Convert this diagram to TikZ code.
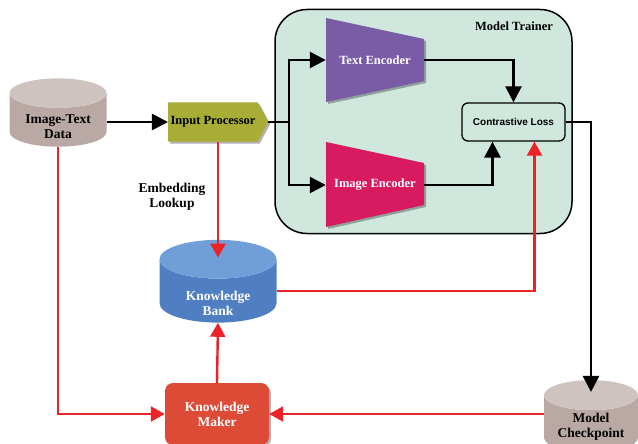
\documentclass[tikz,border=0pt]{standalone}
\usepackage{fontspec}
\setmainfont{Liberation Serif}
\newfontfamily\losssans{Liberation Sans}
\usetikzlibrary{calc,arrows.meta,shapes.geometric,shapes.symbols,shadows}

\definecolor{dbtan}{RGB}{185,168,163}
\definecolor{dbtantop}{RGB}{207,195,192}
\definecolor{procolive}{RGB}{168,173,53}
\definecolor{trainergreen}{RGB}{207,231,220}
\definecolor{textpurple}{RGB}{122,91,166}
\definecolor{imagemagenta}{RGB}{216,27,96}
\definecolor{bankblue}{RGB}{80,126,194}
\definecolor{bankbluetop}{RGB}{112,159,216}
\definecolor{makerred}{RGB}{221,74,54}
\definecolor{linkred}{RGB}{235,35,40}

\tikzset{
  softshadow/.style={drop shadow={shadow xshift=2pt,shadow yshift=-2pt,opacity=0.3,fill=black}},
  dbtext/.style={align=center, font=\fontsize{13.5}{15}\selectfont\bfseries},
  dbstore/.style={cylinder, shape border rotate=90, cylinder uses custom fill, inner sep=0pt, dbtext},
  blackarrow/.style={line width=2.6pt, -{Triangle[length=16pt,width=16pt]}},
  redarrow/.style={line width=2.4pt, draw=linkred, -{Triangle[length=14pt,width=15pt]}},
  encname/.style={minimum width=98pt, inner sep=0pt, text=white, font=\fontsize{12.5}{14}\selectfont\bfseries}
}

\begin{document}
\begin{tikzpicture}[x=1pt,y=-1pt]
		%%%%% START %%%%%
		\useasboundingbox (0,0) rectangle (638,444);
		
		\node[draw, line width=1.5pt, rounded corners=32pt, fill=trainergreen, minimum width=297pt, minimum height=224pt] (trainer) at (423.5,121.5) {};
		\node[font=\fontsize{12.5}{14}\selectfont\bfseries] (trainerlabel) at (514,26) {Model Trainer};
		
		\node[dbstore, cylinder body fill=dbtan, cylinder end fill=dbtantop, minimum width=97pt, minimum height=66pt, aspect=0.45,
		  label={[dbtext, yshift=-7pt]center:Image-Text\\Data}] (data) at (58,120) {\phantom{Image-Text}\\\phantom{Data}};
		\node[signal, signal to=east, signal pointer angle=124, fill=procolive, softshadow, minimum width=100pt, minimum height=39pt, inner sep=0pt, font=\fontsize{12.5}{14}\selectfont\bfseries] (proc) at (213,122) {Input Processor};
		
		\fill[textpurple, softshadow] (326,18) -- (424,39) -- (424,81) -- (326,102) -- cycle;
		\node[encname] (textenc) at (375,60) {Text Encoder};
		\fill[imagemagenta, softshadow] (326,142) -- (424,163) -- (424,205) -- (326,227) -- cycle;
		\node[encname] (imageenc) at (375,185) {Image Encoder};
		
		\node[draw, line width=1.3pt, rounded corners=6pt, fill=trainergreen, minimum width=103pt, minimum height=38pt, font={\losssans\bfseries\fontsize{10}{12}\selectfont}] (loss) at (513.5,122) {Contrastive Loss};
		
		\node[dbtext] (lookup) at (172,197) {Embedding\\Lookup};
		
		\node[dbstore, cylinder body fill=bankblue, cylinder end fill=bankbluetop, minimum width=117pt, minimum height=78pt, aspect=0.6,
		  label={[dbtext, text=white, yshift=-12pt]center:Knowledge\\Bank}] (bank) at (218,291) {\phantom{Knowledge}\\\phantom{Bank}};
		\node[rounded corners=8pt, fill=makerred, softshadow, text=white, align=center, minimum width=104pt, minimum height=62pt, font=\fontsize{13.5}{15}\selectfont\bfseries] (maker) at (217,414) {Knowledge\\Maker};
		\node[dbstore, cylinder body fill=dbtan, cylinder end fill=dbtantop, minimum width=94pt, minimum height=68pt, aspect=0.45,
		  label={[dbtext, yshift=-3pt]center:Model\\Checkpoint}] (ckpt) at (591,424) {\phantom{Model}\\\phantom{Checkpoint}};
		
		% black flow
		\coordinate (fork) at (289,122);
		\draw[blackarrow] (data.east |- proc.west) -- (proc.west);
		\draw[line width=2.6pt] (proc.east) -- (fork);
		\draw[blackarrow] (fork) |- (textenc.west);
		\draw[blackarrow] (fork) |- (imageenc.west);
		\draw[blackarrow] (textenc.east) -| (loss.north);
		\draw[blackarrow] (imageenc.east) -| ($(loss.south)+(-21,0)$);
		\draw[blackarrow] (loss.east) -| ($(ckpt.north)+(0,12)$);
		
		% red flow
		\draw[redarrow] (bank.north |- proc.south) -- ($(bank.north)+(0,18)$);
		\draw[redarrow] (bank.east) -| ($(loss.south)+(21,0)$);
		\draw[redarrow] (maker.north) -- (bank.south);
		\draw[redarrow] (data.south) |- (maker.west);
		\draw[redarrow] (ckpt.west |- maker.east) -- (maker.east);
		
		%%%%% END %%%%%
\end{tikzpicture}
\end{document}
